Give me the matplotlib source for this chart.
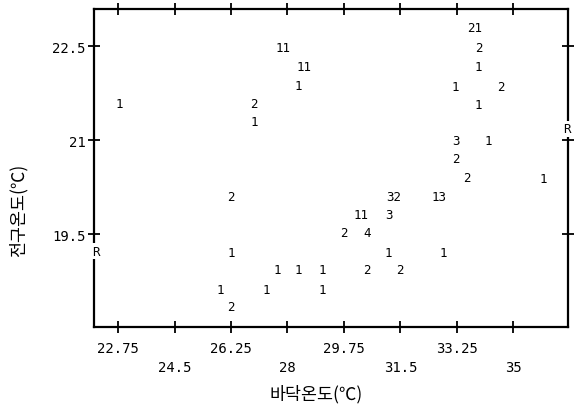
import matplotlib
matplotlib.use('Agg')
import matplotlib.pyplot as plt

# floor temperature (x), globe temperature (y), count printed at that spot
floor_temp = [22.78, 27.86, 28.51, 28.35, 26.96, 26.96,
              33.80, 33.93, 33.93, 33.21, 34.61, 33.93,
              33.21, 34.24, 33.21, 33.55, 35.94,
              31.30, 32.69, 30.27, 31.14, 29.75, 30.46,
              31.14, 32.84, 30.46, 31.48, 27.67, 28.35, 29.07,
              25.91, 27.33, 29.07, 26.25, 26.25, 26.25]
globe_temp = [21.59, 22.48, 22.17, 21.88, 21.59, 21.30,
              22.80, 22.48, 22.17, 21.86, 21.86, 21.57,
              21.00, 21.00, 20.71, 20.41, 20.39,
              20.11, 20.11, 19.82, 19.82, 19.52, 19.52,
              19.21, 19.21, 18.93, 18.93, 18.93, 18.93, 18.93,
              18.62, 18.62, 18.62, 18.34, 19.21, 20.11]
counts = ['1', '11', '11', '1', '2', '1',
          '21', '2', '1', '1', '2', '1',
          '3', '1', '2', '2', '1',
          '32', '13', '11', '3', '2', '4',
          '1', '1', '2', '2', '1', '1', '1',
          '1', '1', '1', '2', '1', '2']

# points that fell outside the plotting range
off_x = [22.07, 36.65]
off_y = [19.23, 21.18]

x_ticks = [22.75, 24.5, 26.25, 28, 29.75, 31.5, 33.25, 35]
x_tick_labels = ['22.75', '24.5', '26.25', '28', '29.75', '31.5', '33.25', '35']
y_ticks = [19.5, 21, 22.5]
y_tick_labels = ['19.5', '21', '22.5']

mono = 'DejaVu Sans Mono'
kr = ['Noto Sans CJK KR', 'DejaVu Sans']

fig = plt.figure(figsize=(5.82, 4.06), dpi=100)
ax = fig.add_axes([0.1615, 0.192, 0.8145, 0.783])

for x, y, c in zip(floor_temp, globe_temp, counts):
    ax.text(x, y, c, ha='center', va='center', fontsize=9, family=mono)
for x, y in zip(off_x, off_y):
    ax.text(x, y, 'R', ha='center', va='center', fontsize=9, family=mono,
            bbox=dict(fc='white', ec='none', pad=1), zorder=5, clip_on=False)

ax.set_xlim(22, 36.7)
ax.set_ylim(18.02, 23.09)

ax.set_xticks(x_ticks)
ax.set_xticklabels(x_tick_labels, family=mono)
ax.set_yticks(y_ticks)
ax.set_yticklabels(y_tick_labels, family=mono)
ax.tick_params(direction='inout', length=8, width=1.3, top=True, right=True,
               labelsize=10, colors='black')
ax.tick_params(axis='y', pad=2)
for i, t in enumerate(ax.xaxis.get_major_ticks()):
    t.set_pad(6 if i % 2 == 0 else 20)

for s in ax.spines.values():
    s.set_linewidth(1.6)

fig.text(316 / 582, 1 - 394 / 406, '바닥온도(℃)', ha='center', va='center',
         fontsize=12.5, family=kr)
fig.text(18 / 582, 1 - 210 / 406, '전구온도(℃)', ha='center', va='center',
         fontsize=12.5, family=kr, rotation=90)

fig.savefig('out.png', dpi=100)
